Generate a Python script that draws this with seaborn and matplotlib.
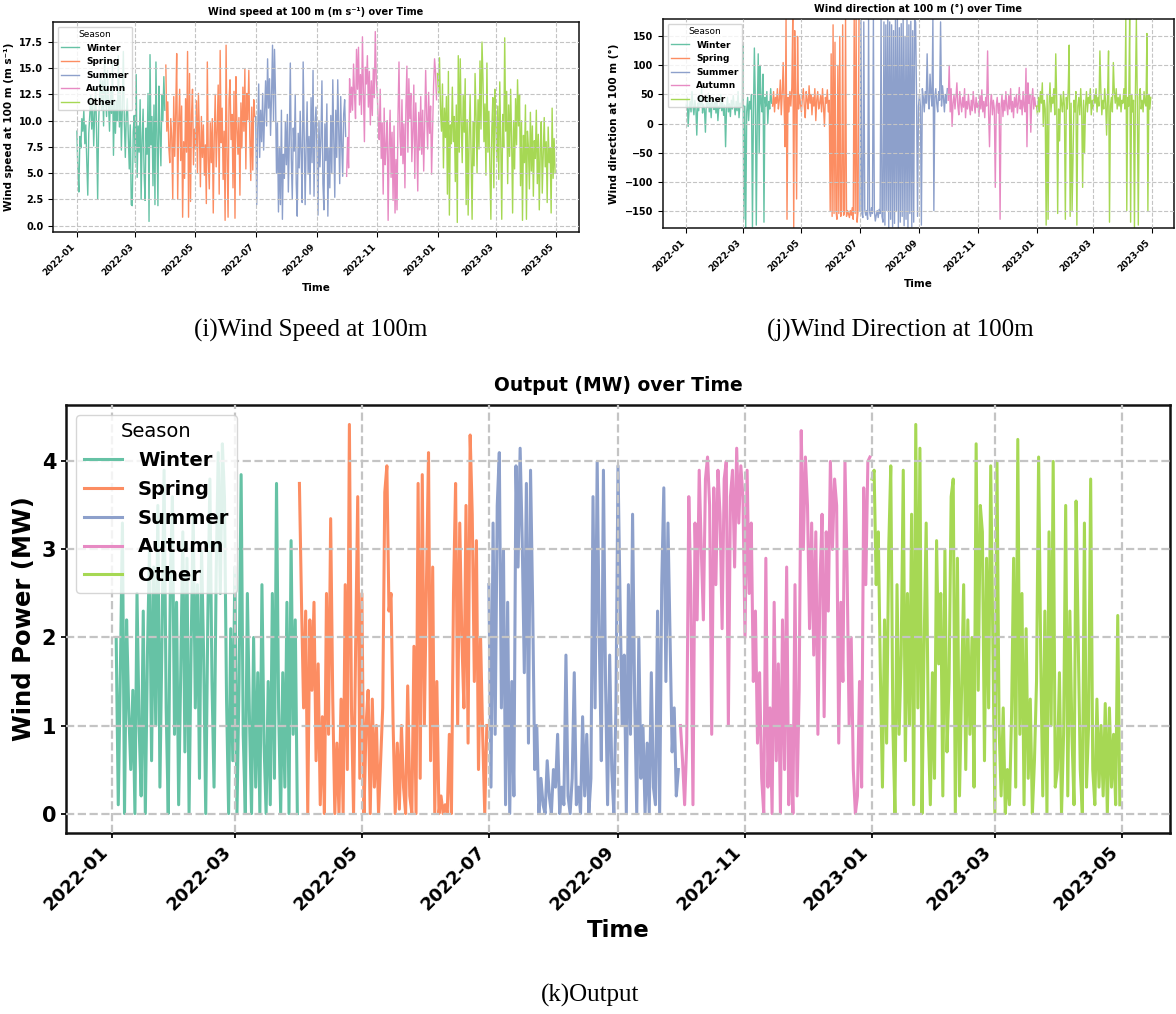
import numpy as np
import pandas as pd
import matplotlib
matplotlib.use("Agg")
import matplotlib.pyplot as plt
import matplotlib.dates as mdates
from matplotlib.ticker import MultipleLocator
import seaborn as sns

# seasons and the day each one starts (daily values)
seasons = ["Winter", "Spring", "Summer", "Autumn", "Other"]
season_starts = ["2022-01-01", "2022-04-01", "2022-07-01", "2022-10-01", "2023-01-01"]
power_starts = ["2022-01-03", "2022-04-01", "2022-07-01", "2022-10-01", "2023-01-01"]

# wind speed at 100 m (m/s)
speed_winter = [9.0, 5.2, 3.2, 8.5, 7.4, 10.2, 9.0, 11.0, 7.8, 9.6,
                6.0, 2.9, 8.8, 10.5, 12.4, 9.2, 11.8, 7.6, 10.8, 13.2,
                8.3, 2.5, 9.8, 12.6, 14.5, 11.0, 13.8, 9.5, 16.0, 12.2, 10.4,
                14.8, 11.5, 9.0, 13.0, 10.7, 15.5, 6.7, 12.0, 8.8, 11.9,
                10.0, 16.2, 9.4, 12.8, 7.2, 11.3, 16.6, 9.9, 6.5, 10.6,
                12.1, 8.5, 5.4, 9.6, 2.0, 1.9, 8.9, 10.5,
                6.0, 14.4, 4.6, 9.5, 7.0, 12.0, 2.5, 8.2, 11.1, 5.0,
                2.4, 9.3, 6.8, 12.6, 0.4, 16.3, 7.7, 10.4, 3.8, 11.5,
                2.0, 15.6, 8.6, 1.9, 13.3, 9.0, 5.7, 12.5, 10.0, 14.2, 11.0]
speed_spring = [15.3, 9.0, 11.8, 7.5, 6.0, 10.2, 8.4, 2.5, 12.3, 6.6,
                10.8, 16.4, 2.5, 9.5, 13.0, 6.2, 11.4, 0.8, 8.0, 4.5,
                12.1, 7.0, 16.6, 0.8, 14.5, 2.3, 10.6, 13.0, 5.8, 9.2,
                7.3, 11.9, 5.0, 12.6, 8.8, 3.7, 10.4, 6.5, 9.6, 4.8,
                7.7, 2.1, 15.6, 6.3, 3.5, 9.8, 6.0, 10.2, 1.2, 8.4,
                12.5, 5.6, 9.1, 13.4, 3.0, 16.7, 7.9, 11.2, 4.4, 9.0, 0.5,
                17.2, 6.6, 0.8, 12.0, 13.9, 8.2, 10.6, 3.6, 12.8, 0.7,
                14.2, 9.4, 6.8, 10.3, 2.9, 11.7, 7.4, 13.2, 9.0, 14.9,
                5.4, 12.6, 10.1, 14.8, 8.5, 4.3, 11.3, 5.3, 12.0, 10.4]
speed_summer = [10.4, 2.0, 9.2, 13.5, 6.5, 11.0, 8.0, 12.6, 7.2, 10.8,
                13.8, 9.5, 15.9, 11.2, 14.0, 8.6, 12.4, 17.2, 10.0, 16.8,
                12.5, 5.0, 9.8, 1.3, 7.5, 2.0, 11.0, 0.6, 6.8, 4.5, 9.9,
                5.8, 10.6, 3.2, 8.0, 15.5, 6.4, 2.5, 9.3, 7.1, 12.5,
                4.0, 0.9, 8.8, 5.5, 10.9, 6.8, 2.2, 15.6, 9.0, 2.0,
                7.6, 11.8, 4.9, 8.5, 3.0, 12.2, 6.0, 14.8, 2.8, 9.5, 11.3,
                7.0, 1.0, 10.0, 5.6, 8.3, 13.8, 4.0, 1.5, 9.7, 6.2,
                11.6, 0.9, 7.4, 3.6, 10.5, 5.0, 13.9, 8.2, 2.7, 11.0,
                6.5, 13.9, 9.1, 4.0, 12.3, 7.8, 4.7, 10.6, 12.0, 8.5]
speed_autumn = [4.7, 8.4, 5.5, 14.0, 10.8, 13.2, 11.0, 15.4, 12.5, 10.2,
                16.8, 13.0, 17.0, 11.5, 14.4, 10.6, 18.0, 12.8, 8.0, 15.1,
                13.5, 16.2, 11.3, 14.7, 9.6, 13.8, 10.5, 15.0, 12.2, 18.5, 14.0,
                12.5, 10.1, 8.2, 13.0, 6.4, 9.8, 3.0, 11.2, 5.8, 7.7,
                10.0, 0.5, 7.5, 11.0, 4.6, 8.9, 2.4, 9.5, 1.2, 6.3,
                1.5, 10.4, 15.6, 8.5, 6.7, 12.0, 5.9, 9.7, 3.6, 11.3,
                15.2, 7.0, 14.0, 10.2, 12.6, 6.1, 9.0, 13.4, 4.5, 11.7,
                8.0, 3.3, 10.8, 7.2, 12.3, 6.8, 11.0, 5.2, 9.6, 14.8,
                10.5, 7.3, 12.7, 8.8, 11.4, 4.9, 9.0, 13.3, 15.9, 14.6, 12.0]
speed_other = [14.5, 12.5, 16.0, 11.0, 9.0, 13.5, 5.5, 11.2, 8.4, 12.3,
               3.0, 14.7, 1.0, 9.6, 7.8, 13.2, 8.0, 10.4, 4.2, 11.5,
               0.3, 16.2, 7.0, 15.9, 9.8, 6.0, 12.4, 8.9, 14.0, 2.0, 10.1,
               1.0, 8.5, 12.5, 6.5, 0.6, 9.9, 5.7, 14.5, 10.5, 5.0,
               12.0, 7.3, 15.7, 9.2, 17.5, 14.0, 8.0, 11.6, 4.8, 15.5,
               7.0, 10.9, 5.5, 0.6, 9.3, 12.2, 3.6, 13.0,
               9.8, 6.1, 11.4, 4.4, 13.7, 8.0, 0.6, 10.6, 7.5, 17.9,
               9.0, 12.8, 4.0, 11.5, 6.6, 13.0, 8.3, 1.2, 10.0, 5.4,
               12.1, 7.7, 13.9, 9.5, 12.5, 3.8, 10.0, 0.5, 8.6, 6.0, 11.5,
               0.6, 9.0, 7.5, 3.5, 10.8, 5.2, 9.5, 2.8, 8.1, 6.4,
               11.0, 4.0, 8.7, 1.5, 7.2, 9.9, 3.1, 6.8, 10.3, 5.6,
               8.0, 2.2, 9.4, 6.0, 7.4, 1.2, 11.2, 4.5, 8.3, 5.0]

# wind direction at 100 m (degrees)
dir_winter = [30, 45, -5, 25, 38, 20, 55, 30, 15, 40,
              28, -20, 35, 22, 48, 30, 60, 18, 33, 25,
              -15, 40, 28, 52, 20, 35, 10, 45, 30, 24, 38,
              18, 42, 5, 30, 26, 50, 22, 36, 14, 32,
              -40, 28, 45, 20, 34, 12, 40, 25, 48, 30,
              15, 38, 22, 55, 10, 35, 28, 42,
              135, -165, 30, -180, 20, 45, 5, 38, 25, 50,
              -178, 15, 130, 40, -175, 10, 120, -50, 100, 35,
              20, 85, -170, 45, 30, 55, 0, 38, 25, 60, 35]
dir_spring = [30, 55, 20, 45, 35, 60, 25, 40, 75, 15,
              50, 105, 30, -40, 180, -165, 45, 20, 55, 30,
              62, 180, -180, 160, 40, -130, 150, 25, 50, 35,
              20, 45, 60, 30, 10, 55, 40, 25, 65, 35,
              50, 15, 45, 30, 60, 5, 40, 55, 25, 35,
              48, 20, 60, 30, -5, 45, 35, 58, 20, 40, -150,
              120, -160, 170, -155, 140, -150, -165, 100, -155, 150,
              -160, -148, 170, -158, -152, 180, -160, -150, -155, -162,
              -150, -158, -145, -165, 180, -155, 180, -170, -152, 180]
dir_summer = [-150, 180, -155, -162, 175, -148, -158, -150, -165, 180,
              -152, -160, -145, -155, 180, -150, -168, -158, -150, -162,
              -148, -155, 180, -160, -170, 175, -175, 170, -150, 180, -180,
              175, -165, 170, -178, 160, -172, 178, -150, 180, -180,
              165, -170, 172, -160, 180, -176, 150, -165, 178, -180,
              170, -155, 176, -178, 160, -170, 178, 175, 40, -160, 30,
              50, 30, -175, 60, 45, 20, 55, 35, 120, 40,
              25, 85, 50, 30, 180, -150, 45, 60, 35, 20,
              55, 40, 175, 30, 65, 45, 20, 50, 35, 60]
dir_autumn = [40, 100, 20, 60, -5, 35, 50, 25, 45, 70,
              30, 15, 55, 35, 20, 45, 28, 60, 10, 38,
              25, 50, 30, 15, 40, 22, 55, 33, 18, 45, 28,
              35, 12, 48, 25, 58, 20, 38, 10, 45, 30,
              125, 20, -40, 35, 50, 15, 40, 25, -110, 30,
              45, 18, 35, -165, 28, 50, 12, 40, 22, 55,
              30, 15, 48, 25, 60, 20, 38, 10, 45, 28,
              50, 18, 35, 62, 25, 40, 15, 55, 30, 20,
              95, -40, 70, 35, 50, -15, 40, 60, 25, 45, 30]
dir_other = [30, 15, 45, 20, 55, 35, 70, -5, 40, 25,
             -175, 50, -165, 30, 70, 20, 45, 35, 60, 15,
             120, 40, -155, 25, -30, 50, 35, 20, 55, 30, -165,
             45, 25, 60, 135, -160, 35, -150, -60, 40, 20,
             55, -175, 30, 45, 15, 60, 25, -110, 40, -50,
             30, 55, 20, 45, 35, 60, 15, 40,
             25, 50, 35, 60, 20, 45, 30, 125, 55, 15,
             40, 25, 60, 35, -20, 50, 125, -170, 30, 45,
             20, 105, 55, 35, 60, 25, 45, 30, 50, 20, 40,
             35, 60, 25, 180, -150, 45, 30, 180, -170, 50,
             20, 40, -180, 55, 180, 30, -175, 45, 60, 25,
             40, 20, 55, 35, 30, 155, -150, 50, 25, 45]

# output (MW)
power_winter = [2.0, 0.1, 1.6, 3.3, 0.0, 2.2, 1.2, 0.5,
                1.4, 0.0, 2.5, 1.0, 0.2, 2.3, 0.0, 1.8, 3.0, 0.6,
                2.8, 1.0, 3.5, 0.3, 2.0, 3.9, 1.2, 0.0, 2.6, 3.6, 0.9,
                2.4, 0.1, 1.6, 3.2, 0.7, 2.9, 0.0, 1.9, 3.4, 1.2,
                2.6, 0.4, 3.0, 1.8, 0.0, 2.2, 3.8, 1.5, 0.3, 2.7,
                4.1, 2.5, 4.2, 3.6, 1.3, 0.0, 2.1, 0.6,
                2.8, 0.0, 1.5, 3.85, 0.9, 0.0, 2.5, 1.1, 0.0, 2.0,
                0.3, 1.6, 0.0, 2.6, 0.8, 0.0, 1.5, 0.1, 2.5, 0.4,
                3.75, 1.2, 0.0, 1.6, 0.3, 2.4, 0.0, 3.1, 0.9, 2.2, 0.0]
power_spring = [3.75, 2.4, 1.2, 2.3, 0.0, 2.2, 1.4, 2.4, 0.6, 1.7,
                0.1, 1.1, 0.0, 2.5, 0.9, 3.35, 1.3, 0.0, 0.8, 0.0,
                1.3, 0.0, 2.6, 0.5, 4.42, 1.2, 0.0, 1.9, 3.6, 0.4,
                2.5, 0.0, 1.0, 1.4, 0.0, 1.3, 0.3, 1.0, 0.0, 0.6,
                1.2, 3.65, 3.95, 2.3, 2.5, 1.0, 0.0, 0.8, 0.05, 1.0,
                0.3, 0.0, 1.45, 0.2, 0.0, 1.9, 0.0, 3.75, 0.4, 3.85, 1.0,
                2.6, 4.1, 0.6, 2.8, 0.0, 1.5, 0.0, 0.2, 0.0, 0.1,
                0.0, 0.9, 0.0, 2.5, 3.75, 1.0, 3.3, 2.0, 1.2, 3.5,
                0.8, 4.3, 3.4, 1.5, 3.1, 0.5, 2.0, 0.9, 0.0, 1.0]
power_summer = [2.6, 0.3, 3.3, 0.9, 3.5, 4.1, 1.2, 3.0, 0.1, 2.4,
                0.0, 1.5, 0.2, 3.95, 2.8, 4.15, 3.1, 1.6, 3.75, 0.8,
                3.9, 2.4, 0.5, 1.0, 0.0, 0.4, 0.1, 0.0, 0.6, 0.2, 0.0,
                0.5, 0.3, 0.9, 0.0, 0.3, 0.1, 1.8, 0.2, 0.0, 0.4,
                1.6, 0.1, 0.3, 0.0, 1.1, 0.2, 0.9, 0.0, 0.4, 3.6,
                1.2, 4.0, 2.0, 0.6, 3.9, 1.5, 0.1, 1.8, 0.5, 0.0, 1.2,
                3.95, 2.4, 1.0, 1.8, 0.0, 2.6, 0.9, 3.4, 1.3, 0.0,
                2.0, 0.4, 1.0, 0.0, 0.8, 0.0, 1.6, 0.3, 0.1, 2.3,
                0.0, 2.6, 3.7, 1.5, 3.3, 2.0, 0.7, 1.2, 0.2, 0.5]
power_autumn = [1.0, 0.6, 0.1, 0.8, 3.6, 2.5, 0.1, 3.3, 2.2, 3.9,
                3.0, 2.2, 3.8, 4.05, 3.5, 0.9, 3.7, 2.6, 3.9, 3.4,
                2.1, 3.8, 4.0, 1.0, 3.6, 3.9, 2.8, 4.15, 3.3, 3.95, 3.6,
                2.0, 3.9, 2.5, 3.3, 1.5, 2.3, 0.8, 1.6, 0.4, 0.0,
                2.9, 0.3, 1.2, 0.0, 2.4, 0.6, 1.7, 0.0, 2.2, 0.5,
                2.8, 0.1, 1.0, 0.0, 2.6, 0.2, 1.4, 4.35, 3.0, 4.05,
                3.5, 2.1, 3.3, 1.8, 3.2, 0.9, 2.6, 3.4, 1.1, 3.2,
                2.3, 4.0, 3.0, 3.8, 3.5, 0.8, 2.4, 1.5, 4.0, 2.8,
                1.0, 2.0, 0.5, 0.0, 0.2, 1.5, 0.3, 3.7, 2.6, 4.0, 4.05]
power_other = [3.8, 3.9, 2.6, 3.2, 1.6, 0.3, 2.2, 0.8, 3.0, 3.95,
               1.0, 0.0, 2.6, 0.9, 1.8, 3.9, 0.6, 2.5, 1.0, 3.4,
               0.1, 4.42, 1.2, 4.15, 0.0, 1.9, 3.3, 1.0, 0.1, 1.6, 0.4,
               3.1, 1.7, 2.5, 0.2, 3.0, 0.7, 1.5, 3.6, 3.8, 0.0,
               2.9, 0.2, 1.4, 2.6, 0.5, 2.2, 0.9, 2.0, 0.3, 4.2,
               1.4, 3.5, 3.2, 0.6, 2.9, 1.2, 3.95, 2.0,
               0.0, 4.0, 1.0, 0.2, 1.2, 0.0, 0.5, 0.1, 1.1, 2.9,
               0.3, 4.25, 0.9, 2.5, 0.1, 2.1, 0.4, 1.3, 0.0, 0.6,
               1.5, 4.05, 1.8, 0.2, 2.3, 0.0, 3.2, 1.0, 4.0, 0.3, 0.5,
               1.6, 0.0, 0.9, 3.5, 0.2, 2.3, 0.9, 0.1, 3.55, 2.0,
               0.5, 0.0, 3.3, 0.3, 1.0, 3.8, 0.5, 0.1, 1.3, 0.3,
               1.0, 0.2, 1.25, 0.0, 1.2, 0.3, 0.9, 0.1, 2.25, 0.1]


def season_frame(lists, starts, col):
    parts = []
    for name, start, vals in zip(seasons, starts, lists):
        t = pd.date_range(start, periods=len(vals), freq="D")
        parts.append(pd.DataFrame({"Time": t, col: vals, "Season": name}))
    return pd.concat(parts, ignore_index=True)


df_speed = season_frame([speed_winter, speed_spring, speed_summer, speed_autumn, speed_other],
                        season_starts, "speed")
df_dir = season_frame([dir_winter, dir_spring, dir_summer, dir_autumn, dir_other],
                      season_starts, "direction")
df_power = season_frame([power_winter, power_spring, power_summer, power_autumn, power_other],
                        power_starts, "power")


def draw(ax, df, col, title, ylabel, fs, lw, grid_lw, spine_lw):
    # fs: dict of font sizes for title, labels, x ticks, y ticks, legend
    sns.lineplot(data=df, x="Time", y=col, hue="Season", hue_order=seasons,
                 palette="Set2", linewidth=lw, estimator=None, ax=ax)
    ax.set_title(title, fontsize=fs["title"], fontweight="bold", pad=fs["pad"])
    ax.set_xlabel("Time", fontsize=fs["xlabel"], fontweight="bold")
    ax.set_ylabel(ylabel, fontsize=fs["ylabel"], fontweight="bold")
    ax.xaxis.set_major_locator(mdates.MonthLocator(bymonth=[1, 3, 5, 7, 9, 11]))
    ax.xaxis.set_major_formatter(mdates.DateFormatter("%Y-%m"))
    ax.grid(True, linestyle="--", linewidth=grid_lw, color="#c4c4c4")
    ax.set_axisbelow(False)
    for s in ax.spines.values():
        s.set_linewidth(spine_lw)
        s.set_color("#111111")
    ax.tick_params(width=spine_lw * 0.7)
    plt.setp(ax.get_xticklabels(), rotation=45, ha="right", fontweight="bold", fontsize=fs["xtick"])
    plt.setp(ax.get_yticklabels(), fontweight="bold", fontsize=fs["ytick"])
    ax.legend(title="Season", loc="upper left", prop={"weight": "bold", "size": fs["legend"]},
              title_fontsize=fs["legend"])


small = dict(title=7, xlabel=7.5, ylabel=7.5, xtick=6.5, ytick=7, legend=6.5, pad=5)
big = dict(title=13.5, xlabel=16.5, ylabel=17.5, xtick=13, ytick=15, legend=14, pad=10)

fig = plt.figure(figsize=(11.76, 10.14), dpi=100)

ax1 = fig.add_axes([53 / 1176, 1 - 232 / 1014, 526 / 1176, 210 / 1014])
draw(ax1, df_speed, "speed", "Wind speed at 100 m (m s⁻¹) over Time",
     "Wind speed at 100 m (m s⁻¹)", small, 1.0, 0.8, 1.1)
ax1.yaxis.set_major_locator(MultipleLocator(2.5))
ax1.yaxis.set_major_formatter(plt.FormatStrFormatter("%.1f"))
plt.setp(ax1.get_yticklabels(), fontweight="bold", fontsize=small["ytick"])

ax2 = fig.add_axes([663 / 1176, 1 - 228 / 1014, 511 / 1176, 209 / 1014])
draw(ax2, df_dir, "direction", "Wind direction at 100 m (°) over Time",
     "Wind direction at 100 m (°)", small, 1.0, 0.8, 1.1)
ax2.set_ylim(-180, 180)
ax2.yaxis.set_major_locator(MultipleLocator(50))
plt.setp(ax2.get_yticklabels(), fontweight="bold", fontsize=small["ytick"])

ax3 = fig.add_axes([66 / 1176, 1 - 833 / 1014, 1104 / 1176, 428 / 1014])
draw(ax3, df_power, "power", "Output (MW) over Time", "Wind Power (MW)",
     big, 2.2, 1.6, 1.8)

cap = dict(ha="center", va="center", fontsize=18, family="Liberation Serif")
fig.text(311 / 1176, 1 - 330 / 1014, "(i)Wind Speed at 100m", **cap)
fig.text(900 / 1176, 1 - 330 / 1014, "(j)Wind Direction at 100m", **cap)
fig.text(590 / 1176, 1 - 995 / 1014, "(k)Output", **cap)

fig.savefig("out.png", dpi=100)
